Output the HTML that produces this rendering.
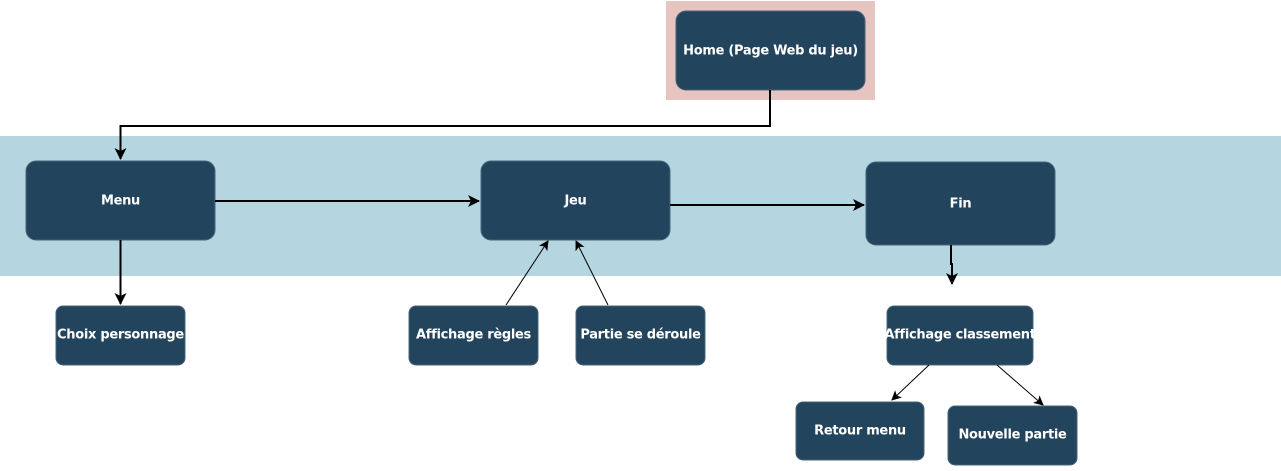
<!DOCTYPE html>
<html><head><meta charset="utf-8"><style>
html,body{margin:0;padding:0;background:#fff;}
svg text{font-family:"DejaVu Sans","Liberation Sans",sans-serif;font-weight:bold;font-size:13px;fill:#fff;text-anchor:middle;dominant-baseline:central;letter-spacing:-0.3px;}
</style></head><body>
<svg width="1281" height="466" viewBox="0 0 1281 466" xmlns="http://www.w3.org/2000/svg">
<defs>
<marker id="a" markerWidth="12" markerHeight="12" refX="11" refY="6" orient="auto" markerUnits="userSpaceOnUse"><path d="M0,0 L12,6 L0,12 L3,6 z" fill="#000"/></marker>
<marker id="s" markerWidth="10" markerHeight="10" refX="9" refY="5" orient="auto" markerUnits="userSpaceOnUse"><path d="M0,0 L10,5 L0,10 L2.5,5 z" fill="#000"/></marker>
</defs>
<rect x="666" y="1" width="209" height="99" fill="#e6c4bf"/>
<rect x="0" y="136" width="1281" height="140" fill="#b5d5e1"/>
<g fill="#23445d" stroke="#4a6477" stroke-width="1">
<rect x="676" y="11" width="189" height="79" rx="10"/>
<rect x="26" y="161" width="189" height="79" rx="10"/>
<rect x="481" y="161" width="189" height="79" rx="10"/>
<rect x="866" y="162" width="189" height="83" rx="10"/>
<rect x="56" y="306" width="129" height="59" rx="7"/>
<rect x="409" y="306" width="129" height="59" rx="7"/>
<rect x="576" y="306" width="129" height="59" rx="7"/>
<rect x="887" y="306" width="146" height="59" rx="7"/>
<rect x="796" y="402" width="128" height="58" rx="7"/>
<rect x="948" y="406" width="129" height="59" rx="7"/>
</g>
<g fill="none" stroke="#000" stroke-width="2">
<path d="M770,90 V126 H120.5 V159" marker-end="url(#a)"/>
<path d="M215,201 H479" marker-end="url(#a)"/>
<path d="M670,205 H864" marker-end="url(#a)"/>
<path d="M120.5,240 V304" marker-end="url(#a)"/>
<path d="M951,245 V264 H952 V284" marker-end="url(#a)"/>
</g>
<g fill="none" stroke="#000" stroke-width="1">
<path d="M506,305 L548,241" marker-end="url(#s)"/>
<path d="M608,305 L576,241" marker-end="url(#s)"/>
<path d="M929,365 L892,400" marker-end="url(#s)"/>
<path d="M997,365 L1043,405" marker-end="url(#s)"/>
</g>
<text x="770.5" y="51">Home (Page Web du jeu)</text>
<text x="120.5" y="201">Menu</text>
<text x="575.5" y="201">Jeu</text>
<text x="960.5" y="204">Fin</text>
<text x="120.5" y="335">Choix personnage</text>
<text x="473.5" y="335">Affichage règles</text>
<text x="640.5" y="335">Partie se déroule</text>
<text x="960" y="335">Affichage classement</text>
<text x="860" y="431">Retour menu</text>
<text x="1012.5" y="435">Nouvelle partie</text>
</svg>
</body></html>
